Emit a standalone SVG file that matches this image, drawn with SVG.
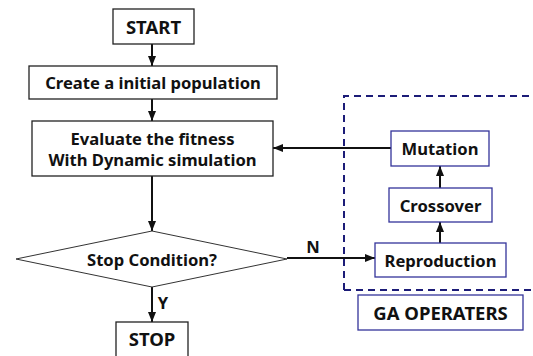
<svg xmlns="http://www.w3.org/2000/svg" width="533" height="356" viewBox="0 0 533 356">
<style>
.b{fill:#fff;stroke:#222;stroke-width:1.3}
.g{fill:#fff;stroke:#34349a;stroke-width:1.3}
.t{font-family:"Noto Sans","Open Sans",sans-serif;font-weight:bold;font-size:16.6px;fill:#111;text-anchor:middle;dominant-baseline:central}
.u{font-size:18.5px}
.c{stroke:#111;stroke-width:2;fill:none}
</style>
<defs>
<marker id="a" viewBox="0 0 10 10" refX="10" refY="5" markerWidth="5" markerHeight="5" orient="auto"><path d="M0,1 L10,5 L0,9 z" fill="#111"/></marker>
</defs>
<rect width="533" height="356" fill="#fff"/>
<g id="ga-region"><path d="M344,290 V96 H533 M344,290 H533" fill="none" stroke="#1c1c78" stroke-width="2" stroke-dasharray="7,5"/></g>
<g id="connectors">
<line class="c" x1="152" y1="44" x2="152" y2="66" marker-end="url(#a)"/>
<line class="c" x1="152" y1="99" x2="152" y2="121" marker-end="url(#a)"/>
<line class="c" x1="152" y1="176" x2="152" y2="231" marker-end="url(#a)"/>
<line class="c" x1="152" y1="287" x2="152" y2="322" marker-end="url(#a)"/>
<line class="c" x1="287" y1="258" x2="375" y2="258" marker-end="url(#a)"/>
<line class="c" x1="440" y1="243" x2="440" y2="222" marker-end="url(#a)"/>
<line class="c" x1="440" y1="188" x2="440" y2="166" marker-end="url(#a)"/>
<line class="c" x1="391" y1="148" x2="273" y2="148" marker-end="url(#a)"/>
<text class="t" x="163" y="302">Y</text>
<text class="t" x="313" y="246">N</text>
</g>
<g id="start"><rect class="b" x="113" y="9" width="81" height="35"/><text class="t u" x="153.5" y="26.5">START</text></g>
<g id="create"><rect class="b" x="29" y="66" width="248" height="33"/><text class="t" x="153" y="82.5">Create a initial population</text></g>
<g id="evaluate"><rect class="b" x="32" y="121" width="241" height="55"/><text class="t" x="152.5" y="138">Evaluate the fitness</text><text class="t" x="152.5" y="159">With Dynamic simulation</text></g>
<g id="stopcond"><polygon points="152,231 287,259 152,287 16,259" fill="#fff" stroke="#333" stroke-width="1"/><text class="t" x="152" y="259">Stop Condition?</text></g>
<g id="stop"><rect class="b" x="116" y="322" width="72" height="40"/><text class="t u" x="152" y="338">STOP</text></g>
<g id="mutation"><rect class="g" x="391" y="131" width="98" height="35"/><text class="t" x="440" y="148.5">Mutation</text></g>
<g id="crossover"><rect class="g" x="389" y="188" width="103" height="34"/><text class="t" x="440.5" y="205">Crossover</text></g>
<g id="reproduction"><rect class="g" x="375" y="243" width="131" height="34"/><text class="t" x="440.5" y="260">Reproduction</text></g>
<g id="gaoperaters"><rect class="g" x="358" y="295" width="165" height="35"/><text class="t u" x="440.5" y="312.5">GA OPERATERS</text></g>
</svg>
